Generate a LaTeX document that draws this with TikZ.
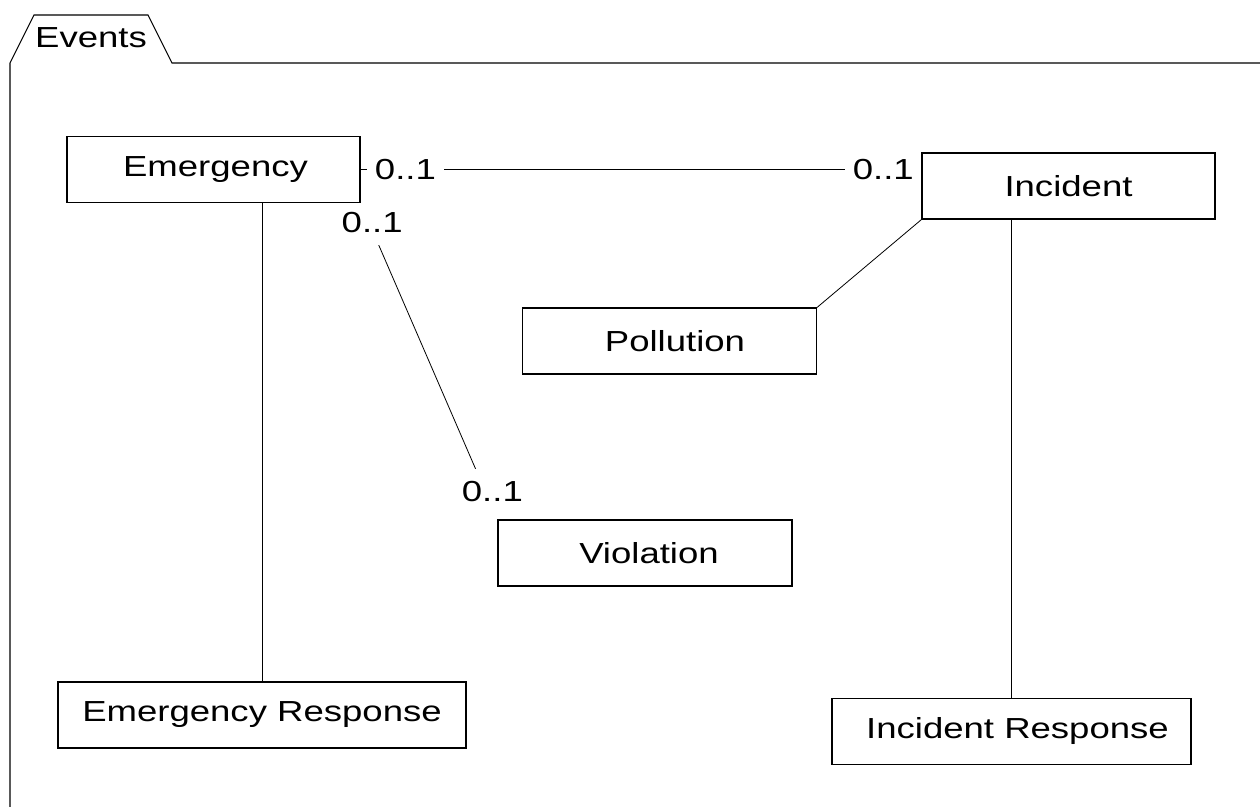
\documentclass[tikz,border=0pt]{standalone}
\usepackage{fontspec}
\setmainfont[FakeStretch=1.26]{Liberation Sans}
\usetikzlibrary{positioning, backgrounds}

\begin{document}
\begin{tikzpicture}[x=0.5pt, y=-0.5pt, line width=0.55pt,
  cls/.style={draw, minimum width=#1, minimum height=33pt, inner sep=0pt,
    font=\fontsize{14.5}{16}\selectfont},
  mult/.style={fill=white, inner xsep=4pt, inner ysep=6pt, font=\fontsize{14.5}{16}\selectfont}]
  \useasboundingbox (0,0) rectangle (1260,807);
  % Package frame
  \draw (10,807) -- (10,63) -- (34,15) -- (148,15) -- (172,63) -- (1260,63);
  \node[font=\fontsize{14.5}{16}\selectfont] (pkg) at (91,38) {Events};
  % Classes
  \node[cls=146.5pt] (emergency) at (213.5,169.5) {\hspace*{2pt}Emergency};
  \node[cls=146.5pt] (incident) at (1068.5,186) {Incident};
  \node[cls=147pt] (pollution) at (669.5,341) {\hspace*{5.5pt}Pollution};
  \node[cls=147pt] (violation) at (645,553) {\hspace*{4pt}Violation};
  \node[cls=204pt] (emresp) at (262,715) {Emergency Response};
  \node[cls=179.5pt] (incresp) at (1011.5,731.5) {\hspace*{6pt}Incident Response};
  % Associations
  \begin{scope}[on background layer]
    \draw (emergency.east) -- (emergency.east -| incident.west)
      node[mult, pos=0.08] (m1) {0..1}
      node[mult, pos=0.932] (m2) {0..1};
    \draw (emergency.south east) -- (violation.north west)
      node[mult, pos=0.063, xshift=1.5pt] (m3) {0..1}
      node[mult, pos=0.912, xshift=3.5pt, yshift=-3pt, text depth=6pt] (m4) {0..1};
    \draw (incident.south west) -- (pollution.north east);
    \draw (emresp.north) -- (emresp.north |- emergency.south);
    \draw (incresp.north) -- (incresp.north |- incident.south);
  \end{scope}
\end{tikzpicture}
\end{document}
